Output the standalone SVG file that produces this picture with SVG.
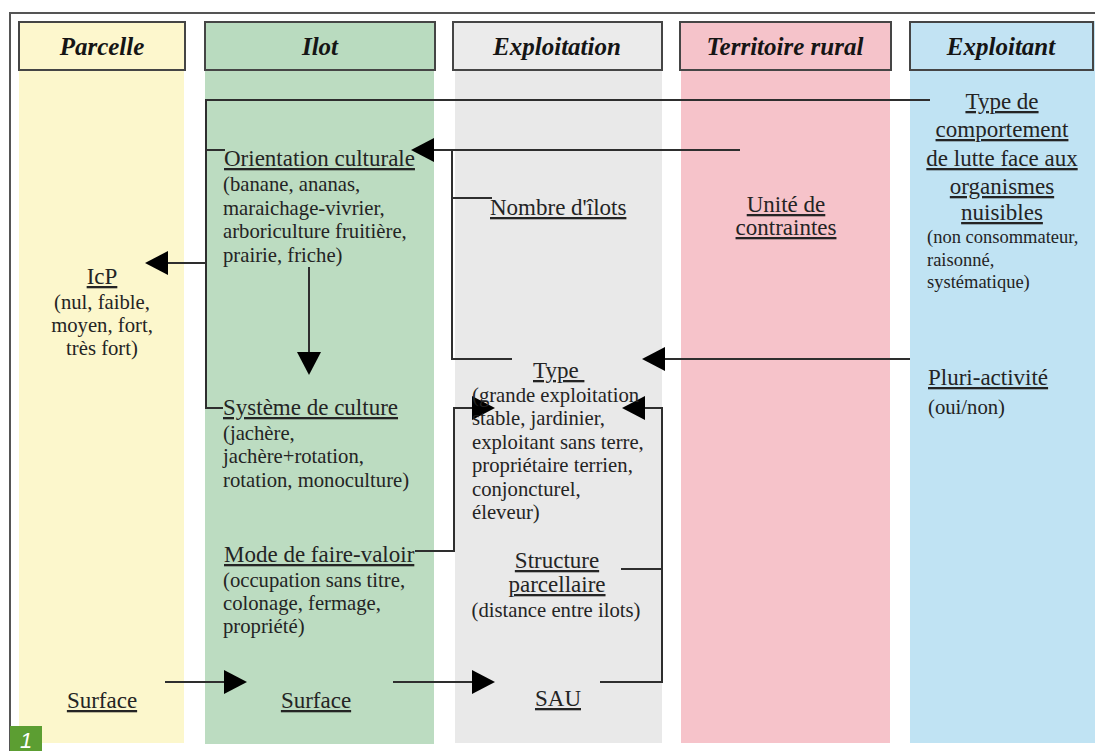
<svg xmlns="http://www.w3.org/2000/svg" width="1095" height="751" viewBox="0 0 1095 751">
  <style>
    .hdr { stroke: #454545; stroke-width: 2; }
    .htxt { font-family: "Liberation Serif", "Times New Roman", serif; font-size: 25px; font-weight: bold; font-style: italic; fill: #151515; text-anchor: middle; }
    .t { font-family: "Liberation Serif", "Times New Roman", serif; font-size: 23px; fill: #242424; text-decoration: underline; }
    .d { font-family: "Liberation Serif", "Times New Roman", serif; font-size: 20.7px; fill: #242424; }
    .ds { font-family: "Liberation Serif", "Times New Roman", serif; font-size: 18.5px; fill: #242424; }
    .mid { text-anchor: middle; }
    .link { fill: none; stroke: #2e2e2e; stroke-width: 2; }
  </style>
  <defs>
    <marker id="arrow" markerUnits="userSpaceOnUse" markerWidth="24" markerHeight="24" refX="0" refY="12" orient="auto">
      <path d="M0,0 L23,12 L0,24 z" fill="#000"/>
    </marker>
  </defs>

  <rect width="1095" height="751" fill="#fff"/>

  <!-- frame -->
  <path d="M10,751 V13 H1095" fill="none" stroke="#555" stroke-width="2"/>

  <!-- column bands with headers -->
  <g id="col-parcelle">
    <rect x="19" y="21" width="165" height="722" fill="#fcf7cc"/>
    <rect class="hdr" x="19" y="22" width="166" height="48" fill="#fdf7cd"/>
    <text class="htxt" x="102" y="55">Parcelle</text>
  </g>
  <g id="col-ilot">
    <rect x="205" y="21" width="229" height="723" fill="#bcdcc1"/>
    <rect class="hdr" x="205" y="22" width="230" height="48" fill="#b9dbbf"/>
    <text class="htxt" x="320" y="55">Ilot</text>
  </g>
  <g id="col-exploitation">
    <rect x="455" y="21" width="207" height="722" fill="#e9e9e9"/>
    <rect class="hdr" x="453" y="22" width="209" height="48" fill="#ebebeb"/>
    <text class="htxt" x="557" y="55">Exploitation</text>
  </g>
  <g id="col-territoire">
    <rect x="681" y="21" width="209" height="722" fill="#f6c3ca"/>
    <rect class="hdr" x="680" y="22" width="211" height="48" fill="#f5c3ca"/>
    <text class="htxt" x="785" y="55">Territoire rural</text>
  </g>
  <g id="col-exploitant">
    <rect x="910" y="21" width="185" height="722" fill="#c0e3f3"/>
    <rect class="hdr" x="910" y="22" width="183" height="48" fill="#c2e3f3"/>
    <text class="htxt" x="1001" y="55">Exploitant</text>
  </g>

  <!-- connectors -->
  <g id="connectors">
    <path class="link" d="M930,100 H206 V408 H223"/>
    <path class="link" d="M206,150 H225"/>
    <path class="link" d="M206,263 H168" marker-end="url(#arrow)"/>
    <path class="link" d="M309,267 V352" marker-end="url(#arrow)"/>
    <path class="link" d="M740,150 H434" marker-end="url(#arrow)"/>
    <path class="link" d="M452,150 V359 H512"/>
    <path class="link" d="M452,198 H492"/>
    <path class="link" d="M910,359 H665" marker-end="url(#arrow)"/>
    <path class="link" d="M415,551 H454 V408 H472" marker-end="url(#arrow)"/>
    <path class="link" d="M600,682 H662 V408 H645" marker-end="url(#arrow)"/>
    <path class="link" d="M621,569 H662"/>
    <path class="link" d="M165,682 H224" marker-end="url(#arrow)"/>
    <path class="link" d="M393,682 H472" marker-end="url(#arrow)"/>
  </g>

  <!-- Parcelle -->
  <g id="icp">
    <text class="t mid" x="102" y="284">IcP</text>
    <text class="d mid" x="102" y="309">(nul, faible,</text>
    <text class="d mid" x="102" y="332">moyen, fort,</text>
    <text class="d mid" x="102" y="355">très fort)</text>
  </g>
  <g id="surface-parcelle">
    <text class="t mid" x="102" y="708">Surface</text>
  </g>

  <!-- Ilot -->
  <g id="orientation">
    <text class="t" x="224" y="166">Orientation culturale</text>
    <text class="d" x="223" y="191">(banane, ananas,</text>
    <text class="d" x="223" y="215">maraichage-vivrier,</text>
    <text class="d" x="223" y="238">arboriculture fruitière,</text>
    <text class="d" x="223" y="262">prairie, friche)</text>
  </g>
  <g id="systeme">
    <text class="t" x="223" y="415">Système de culture</text>
    <text class="d" x="223" y="440">(jachère,</text>
    <text class="d" x="223" y="463">jachère+rotation,</text>
    <text class="d" x="223" y="487">rotation, monoculture)</text>
  </g>
  <g id="mode">
    <text class="t" x="224" y="562">Mode de faire-valoir</text>
    <text class="d" x="223" y="587">(occupation sans titre,</text>
    <text class="d" x="223" y="610">colonage, fermage,</text>
    <text class="d" x="223" y="633">propriété)</text>
  </g>
  <g id="surface-ilot">
    <text class="t mid" x="316" y="708">Surface</text>
  </g>

  <!-- Exploitation -->
  <g id="nombre">
    <text class="t" x="490" y="215">Nombre d'îlots</text>
  </g>
  <g id="type">
    <text class="t" x="533" y="378">Type&#160;</text>
    <text class="d" x="472" y="402">(grande exploitation</text>
    <text class="d" x="472" y="425">stable, jardinier,</text>
    <text class="d" x="472" y="449">exploitant sans terre,</text>
    <text class="d" x="472" y="472">propriétaire terrien,</text>
    <text class="d" x="472" y="496">conjoncturel,</text>
    <text class="d" x="472" y="519">éleveur)</text>
  </g>
  <g id="structure">
    <text class="t mid" x="557" y="568">Structure</text>
    <text class="t mid" x="557" y="592">parcellaire</text>
    <text class="d mid" x="556" y="617">(distance entre ilots)</text>
  </g>
  <g id="sau">
    <text class="t mid" x="558" y="706">SAU</text>
  </g>

  <!-- Territoire rural -->
  <g id="unite">
    <text class="t mid" x="786" y="212">Unité de</text>
    <text class="t mid" x="786" y="235">contraintes</text>
  </g>

  <!-- Exploitant -->
  <g id="comportement">
    <text class="t mid" x="1002" y="109">Type de</text>
    <text class="t mid" x="1002" y="137">comportement</text>
    <text class="t mid" x="1002" y="166">de lutte face aux</text>
    <text class="t mid" x="1002" y="194">organismes</text>
    <text class="t mid" x="1002" y="220">nuisibles</text>
    <text class="ds" x="927" y="243">(non consommateur,</text>
    <text class="ds" x="927" y="266">raisonné,</text>
    <text class="ds" x="927" y="288">systématique)</text>
  </g>
  <g id="pluri">
    <text class="t" x="928" y="385">Pluri-activité</text>
    <text class="d" x="928" y="414">(oui/non)</text>
  </g>

  <!-- figure number -->
  <g id="badge">
    <rect x="10" y="726" width="32" height="25" fill="#5c9e32"/>
    <text x="26" y="748" font-family="Liberation Sans, sans-serif" font-size="22" font-style="italic" fill="#fff" text-anchor="middle">1</text>
  </g>
</svg>
